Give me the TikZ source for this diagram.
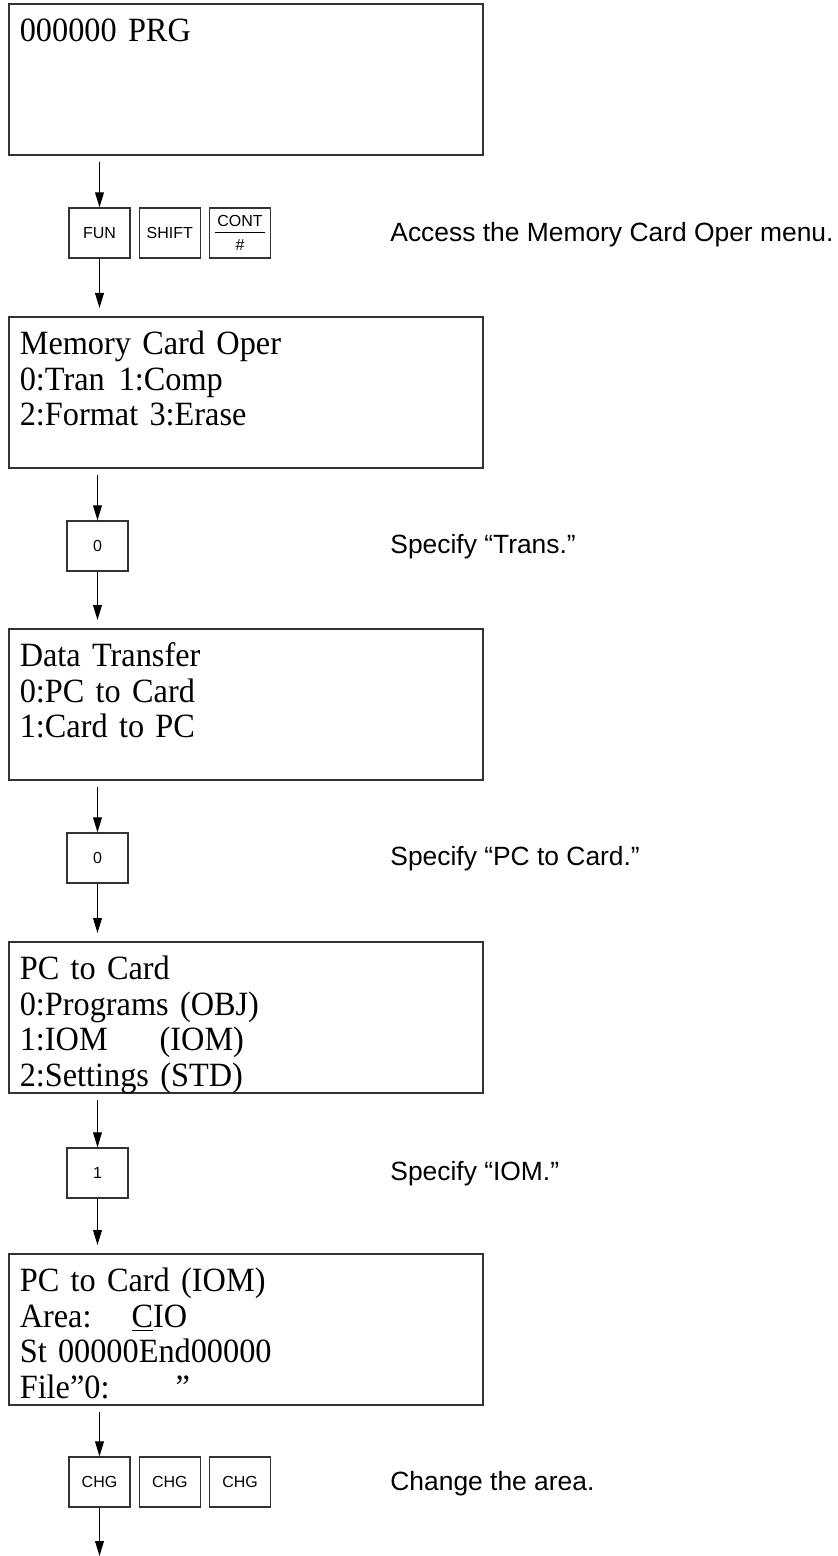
\documentclass[tikz,border=0pt]{standalone}
\usepackage{fontspec}
\setmainfont{Liberation Serif}
\setsansfont{Liberation Sans}
\newfontfamily\lcdfont[FakeStretch=0.95,WordSpace=0.8]{Liberation Serif}
\newcommand{\lcdtext}{\lcdfont\fontsize{17pt}{17.75pt}\selectfont\setlength{\lineskiplimit}{-20pt}\setlength{\lineskip}{0pt}}
\usetikzlibrary{positioning,arrows.meta}
\tikzstyle{lcd} = [rectangle, draw=black!80, line width=0.8pt, anchor=north west, text width=226pt, inner xsep=5.5pt, inner ysep=0pt, text height=19pt, text depth=56.5pt, align=left, font=\lcdtext]
\tikzstyle{keybox} = [rectangle, draw=black!80, line width=0.65pt, minimum width=30.5pt, minimum height=25pt, inner sep=0pt, font=\sffamily\fontsize{8pt}{9.5pt}\selectfont]
\tikzstyle{notetext} = [anchor=base west, inner sep=0pt, font=\sffamily\fontsize{13.2pt}{15.8pt}\selectfont]
\tikzstyle{arrow} = [line width=0.6pt,->,>={Triangle[length=7.5pt,width=4.4pt]}]
\begin{document}
\begin{tikzpicture}[x=0.5pt,y=-0.5pt]
\useasboundingbox (0,0) rectangle (837,1556);

\node (prg) [lcd] at (8,3) {000000 PRG};
\node (fun) [keybox] at (99.5,233) {FUN};
\node (shift) [keybox, right=4pt of fun] {SHIFT};
\node (cont) [keybox, right=4pt of shift] {\begin{tabular}{@{\hspace{1pt}}c@{\hspace{1pt}}}\rule{0pt}{8.5pt}CONT\\\hline\rule{0pt}{9pt}\#\end{tabular}};
\node (noteaccess) [notetext] at (390,242) {Access the Memory Card Oper menu.};

\node (cardop) [lcd] at (8,316) {Memory Card Oper\\0:Tran\hspace{7pt}1:Comp\\2:Format 3:Erase};
\node (zeroa) [keybox] at (97.5,546) {0};
\node (notetrans) [notetext] at (390,553) {Specify “Trans.”};

\node (transfer) [lcd] at (8,628) {Data Transfer\\0:PC to Card\\1:Card to PC};
\node (zerob) [keybox] at (97.5,858) {0};
\node (notepc) [notetext] at (390,865) {Specify “PC to Card.”};

\node (pctocard) [lcd] at (8,941) {PC to Card\\0:Programs (OBJ)\\1:IOM\hspace{26pt}(IOM)\\2:Settings (STD)};
\node (one) [keybox] at (97.5,1173) {1};
\node (noteiom) [notetext] at (390,1180) {Specify “IOM.”};

\node (iomset) [lcd] at (8,1253) {PC to Card (IOM)\\Area:\hspace{20pt}\underline{C}IO\\St 00000End00000\\File”0:\hspace{33pt}”};
\node (chga) [keybox] at (99.5,1482) {CHG};
\node (chgb) [keybox, right=4pt of chga] {CHG};
\node (chgc) [keybox, right=4pt of chgb] {CHG};
\node (notearea) [notetext] at (390,1490) {Change the area.};
\coordinate (end) at (99.5,1556);

\draw [arrow, shorten <=3pt] (fun |- prg.south) -- (fun.north);
\draw [arrow, shorten >=4pt] (fun.south) -- (fun |- cardop.north);
\draw [arrow, shorten <=3pt] (zeroa |- cardop.south) -- (zeroa.north);
\draw [arrow, shorten >=4pt] (zeroa.south) -- (zeroa |- transfer.north);
\draw [arrow, shorten <=3pt] (zerob |- transfer.south) -- (zerob.north);
\draw [arrow, shorten >=4pt] (zerob.south) -- (zerob |- pctocard.north);
\draw [arrow, shorten <=3pt] (one |- pctocard.south) -- (one.north);
\draw [arrow, shorten >=4pt] (one.south) -- (one |- iomset.north);
\draw [arrow, shorten <=3pt] (chga |- iomset.south) -- (chga.north);
\draw [arrow] (chga.south) -- (end);

\end{tikzpicture}
\end{document}
